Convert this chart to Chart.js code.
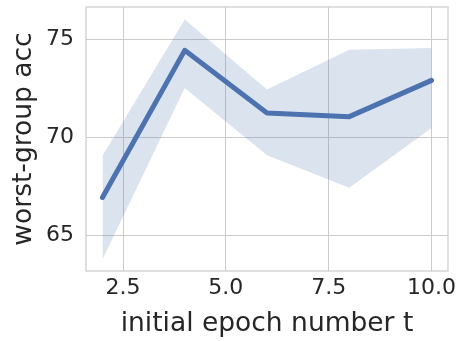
<!DOCTYPE html>
<html lang="en"><head><meta charset="utf-8"><title>worst-group acc</title>
<script src="https://cdn.jsdelivr.net/npm/chart.js@4"></script>
<style>
  html, body { margin: 0; padding: 0; background: #ffffff; }
  #wrap { width: 461px; height: 341px; }
</style></head>
<body>
<div id="wrap"><canvas id="c" width="461" height="341"></canvas></div>
<script>
// Values: mean line and its shaded band, per epoch t.
const epochs = [2, 4, 6, 8, 10];
const meanAcc = [66.93, 74.43, 71.24, 71.05, 72.9];
const lowerAcc = [63.76, 72.51, 69.08, 67.42, 70.47];
const upperAcc = [69.05, 76.0, 72.44, 74.46, 74.55];
const xTicks = [2.5, 5.0, 7.5, 10.0];
const yTicks = [65, 70, 75];

const BLUE = '#4c72b0', GRID = '#cccccc', INK = '#262626';
const TICK_FONT = { family: '"DejaVu Sans", sans-serif', size: 22 };
const LABEL_FONT = { family: '"DejaVu Sans", sans-serif', size: 26.5 };

const pts = ys => epochs.map((x, i) => ({ x, y: ys[i] }));

// seaborn whitegrid draws all four spines in the grid grey
const frame = {
  id: 'frame',
  afterDatasetsDraw(chart) {
    const { ctx, chartArea: a } = chart;
    ctx.save();
    ctx.strokeStyle = GRID;
    ctx.lineWidth = 1.25;
    ctx.strokeRect(a.left, a.top, a.right - a.left, a.bottom - a.top);
    ctx.restore();
  },
};

// The plot box is pinned to where matplotlib put it, so drop Chart.js's
// label-overhang padding and fix the axis bands.
const pin = size => s => {
  s.paddingTop = s.paddingBottom = s.paddingLeft = s.paddingRight = 0;
  if (s.isHorizontal()) s.height = size; else s.width = size;
};

new Chart(document.getElementById('c'), {
  type: 'line',
  data: {
    datasets: [
      { data: pts(meanAcc), borderColor: BLUE, borderWidth: 5, pointRadius: 0,
        borderCapStyle: 'round', borderJoinStyle: 'round', fill: false, order: 0 },
      { data: pts(lowerAcc), borderWidth: 0, borderColor: 'transparent', pointRadius: 0,
        fill: false, order: 1 },
      { data: pts(upperAcc), borderWidth: 0, borderColor: 'transparent', pointRadius: 0,
        backgroundColor: 'rgba(76,114,176,0.2)', fill: 1, order: 2 },
    ],
  },
  options: {
    responsive: false, animation: false, devicePixelRatio: 1,
    layout: { padding: { left: 0, right: 13, top: 7, bottom: 0 } },
    plugins: { legend: { display: false }, tooltip: { enabled: false } },
    scales: {
      x: {
        type: 'linear', min: 1.6, max: 10.4,
        afterBuildTicks: s => { s.ticks = xTicks.map(value => ({ value })); },
        afterFit: pin(70),
        grid: { color: GRID, lineWidth: 1, drawTicks: false },
        border: { display: false },
        ticks: { color: INK, font: TICK_FONT, padding: 4, maxRotation: 0, callback: v => v.toFixed(1) },
        title: { display: true, text: 'initial epoch number t', color: INK, font: LABEL_FONT, padding: { top: 0, bottom: 1 } },
      },
      y: {
        min: 63.18, max: 76.64,
        afterBuildTicks: s => { s.ticks = yTicks.map(value => ({ value })); },
        afterFit: pin(86),
        grid: { color: GRID, lineWidth: 1, drawTicks: false },
        border: { display: false },
        ticks: { color: INK, font: TICK_FONT, padding: 12 },
        title: { display: true, text: 'worst-group acc', color: INK, font: LABEL_FONT, padding: { top: 8, bottom: 0 } },
      },
    },
  },
  plugins: [frame],
});
</script>
</body></html>
